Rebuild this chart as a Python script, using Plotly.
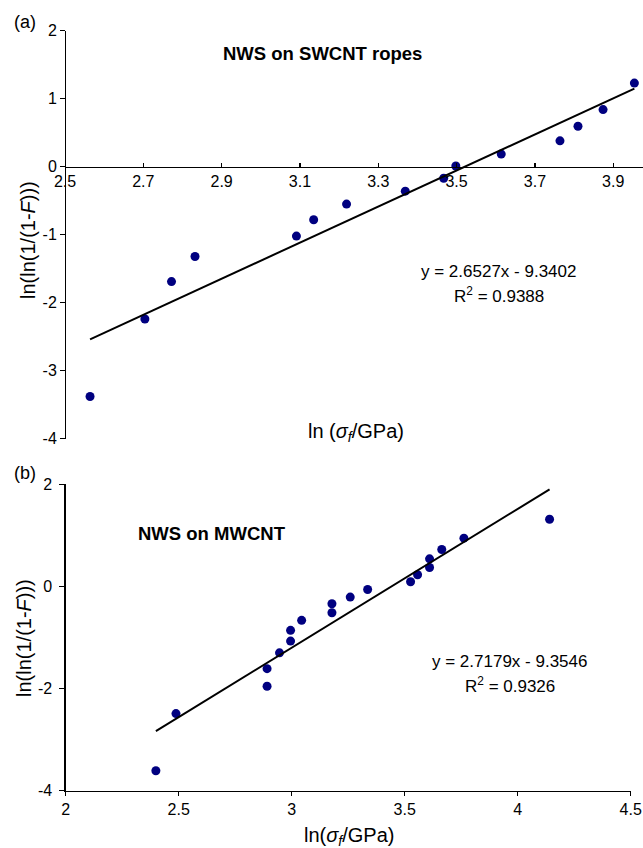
import plotly.graph_objects as go

# ---------------- data: panel (a) NWS on SWCNT ropes ----------------
a_x = [2.564, 2.704, 2.772, 2.832, 3.091, 3.135, 3.219, 3.369, 3.467, 3.498,
       3.614, 3.764, 3.810, 3.874, 3.954]
a_y = [-3.38, -2.24, -1.69, -1.32, -1.02, -0.78, -0.55, -0.36, -0.17, 0.01,
       0.185, 0.38, 0.595, 0.84, 1.23]
a_slope, a_intercept = 2.6527, -9.3402
a_r2 = 0.9388

# ---------------- data: panel (b) NWS on MWCNT ----------------
b_x = [2.399, 2.488, 2.891, 2.891, 2.946, 2.995, 2.995, 3.044, 3.178, 3.178,
       3.259, 3.336, 3.526, 3.557, 3.610, 3.610, 3.664, 3.762, 4.141]
b_y = [-3.61, -2.49, -1.955, -1.61, -1.30, -1.07, -0.86, -0.664, -0.515, -0.339,
       -0.208, -0.059, 0.091, 0.228, 0.371, 0.541, 0.723, 0.945, 1.316]
b_slope, b_intercept = 2.7179, -9.3546
b_r2 = 0.9326

# ---------------- tick labels ----------------
a_xticks = [2.5, 2.7, 2.9, 3.1, 3.3, 3.5, 3.7, 3.9]
a_xticktext = ["2.5", "2.7", "2.9", "3.1", "3.3", "3.5", "3.7", "3.9"]
a_yticks = [-4, -3, -2, -1, 0, 1, 2]
a_yticktext = ["-4", "-3", "-2", "-1", "0", "1", "2"]
b_xticks = [2, 2.5, 3, 3.5, 4, 4.5]
b_xticktext = ["2", "2.5", "3", "3.5", "4", "4.5"]
b_yticks = [-4, -2, 0, 2]
b_yticktext = ["-4", "-2", "0", "2"]

W, H = 643, 848
FONT = "Liberation Sans, Arial, Helvetica, sans-serif"
NAVY = "#000080"


def px(x):
    return x / W


def py(y):
    return 1 - y / H


fig = go.Figure()

# panel (a)
fig.add_trace(go.Scatter(x=a_x, y=a_y, mode="markers", xaxis="x", yaxis="y",
                         marker=dict(color=NAVY, size=9), showlegend=False,
                         hoverinfo="skip"))
a_lx = [min(a_x), max(a_x)]
fig.add_trace(go.Scatter(x=a_lx, y=[a_slope * v + a_intercept for v in a_lx],
                         mode="lines", xaxis="x", yaxis="y",
                         line=dict(color="black", width=2), showlegend=False,
                         hoverinfo="skip"))

# panel (b)
fig.add_trace(go.Scatter(x=b_x, y=b_y, mode="markers", xaxis="x2", yaxis="y2",
                         marker=dict(color=NAVY, size=9), showlegend=False,
                         hoverinfo="skip"))
b_lx = [min(b_x), max(b_x)]
fig.add_trace(go.Scatter(x=b_lx, y=[b_slope * v + b_intercept for v in b_lx],
                         mode="lines", xaxis="x2", yaxis="y2",
                         line=dict(color="black", width=2), showlegend=False,
                         hoverinfo="skip"))

axis_common = dict(showgrid=False, zeroline=False, showline=True, automargin=False,
                   linecolor="black", linewidth=1.3, tickcolor="black",
                   tickwidth=1.2, tickfont=dict(size=16, color="black", family=FONT),
                   tickmode="array", fixedrange=True)

a_ytop, a_ybot = 30.7, 438.7
a_zero = a_ytop + (a_ybot - a_ytop) * 2 / 6

fig.update_layout(
    template="none",
    width=W, height=H, autosize=False,
    margin=dict(l=0, r=0, t=0, b=0, pad=0, autoexpand=False),
    paper_bgcolor="white", plot_bgcolor="rgba(0,0,0,0)",
    font=dict(family=FONT, color="black"),
    xaxis=dict(**axis_common, domain=[px(65), 1.0], range=[2.5, 3.976],
               anchor="free", position=py(a_zero),
               tickvals=a_xticks, ticktext=a_xticktext,
               ticks="inside", ticklen=4),
    yaxis=dict(**axis_common, domain=[py(a_ybot), py(a_ytop)], range=[-4, 2],
               anchor="free", position=px(65),
               tickvals=a_yticks, ticktext=a_yticktext,
               ticks="outside", ticklen=5),
    xaxis2=dict(**axis_common, domain=[px(65.7), px(630.7)], range=[2, 4.5],
                anchor="y2",
                tickvals=b_xticks, ticktext=b_xticktext,
                ticks="outside", ticklen=4),
    yaxis2=dict(**axis_common, domain=[py(790.7), py(484.3)], range=[-4, 2],
                anchor="x2",
                tickvals=b_yticks, ticktext=b_yticktext,
                ticks="outside", ticklen=5, ticklabelstandoff=4),
)

ann = [
    ("(a)", 25, 22, 18, 0),
    ("<b>NWS on SWCNT ropes</b>", 322, 53, 18.5, 0),
    ("y = %.4fx - %.4f" % (a_slope, -a_intercept), 498, 271, 17, 0),
    ("R<sup>2</sup> = %.4f" % a_r2, 499, 295, 17, 0),
    ("ln (<i>σ</i><sub><i>f</i></sub>/GPa)", 356, 433, 20, 0),
    ("ln(ln(1/(1-<i>F</i>)))", 28, 240, 20, -90),
    ("(b)", 25, 473, 18, 0),
    ("<b>NWS on MWCNT</b>", 212, 533, 18.5, 0),
    ("y = %.4fx - %.4f" % (b_slope, -b_intercept), 509, 661, 17, 0),
    ("R<sup>2</sup> = %.4f" % b_r2, 510, 685, 17, 0),
    ("ln(<i>σ</i><sub><i>f</i></sub>/GPa)", 349, 836, 20, 0),
    ("ln(ln(1/(1-<i>F</i>)))", 24, 638, 20, -90),
]
for text, x, y, size, rot in ann:
    fig.add_annotation(text=text, x=px(x), y=py(y), xref="paper", yref="paper",
                       xanchor="center", yanchor="middle", showarrow=False,
                       textangle=rot, font=dict(size=size, color="black", family=FONT))

fig.write_html("out.html",
               config={"displayModeBar": False, "staticPlot": True},
               post_script="document.body.style.margin='0';"
                           "document.body.style.overflow='hidden';")
